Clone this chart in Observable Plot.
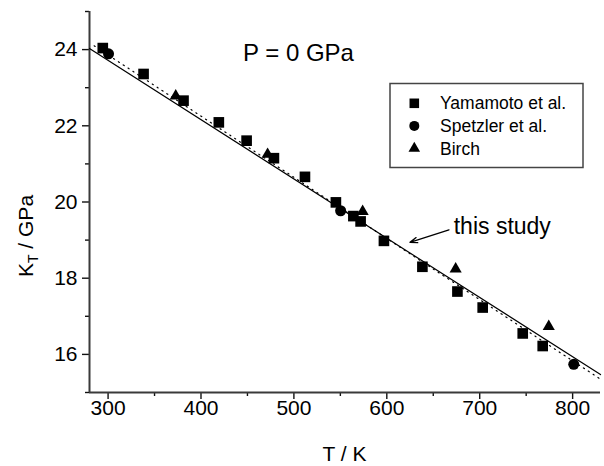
<!DOCTYPE html>
<html><head><meta charset="utf-8">
<script src="https://cdn.jsdelivr.net/npm/d3@7"></script>
<script src="https://cdn.jsdelivr.net/npm/@observablehq/plot@0.6"></script>
<style>
html,body{margin:0;padding:0;background:#fff;}
#chart{width:604px;height:466px;}
svg text{font-family:"Liberation Sans",Arial,sans-serif;}
</style></head><body><div id="chart"></div>
<script>
// ---- data ----
const yamamotoT = [294.3, 338.2, 381.2, 419.2, 449.1, 478.5, 511.9, 545.2, 564.0, 571.8, 596.9, 638.3, 676.0, 703.2, 746.3, 767.8];
const yamamotoK = [24.04, 23.36, 22.66, 22.09, 21.61, 21.15, 20.66, 19.99, 19.63, 19.49, 18.98, 18.30, 17.65, 17.23, 16.55, 16.22];
const spetzlerT = [300.5, 550.3, 801.2];
const spetzlerK = [23.89, 19.77, 15.74];
const birchT = [372.8, 471.7, 574.0, 674.1, 774.3];
const birchK = [22.78, 21.25, 19.75, 18.24, 16.73];
const studyT = [280, 830];          // "this study" solid line
const studyK = [24.03, 15.47];
const fitT = [285, 830];            // dotted line
const fitK = [24.10, 15.35];
const xMajorTicks = [300, 400, 500, 600, 700, 800];
const xMinorTicks = [350, 450, 550, 650, 750];
const yMajorTicks = [16, 18, 20, 22, 24];
const yMinorTicks = [15, 17, 19, 21, 23, 25];
const seriesNames = ["Yamamoto et al.", "Spetzler et al.", "Birch"];
const seriesSymbols = ["square", "circle", "triangle"];
const seriesR = [6.0, 5.5, 4.5];
const titleText = "P = 0 GPa";
const xLabel = "T / K";
const yLabelMain = "K", yLabelSub = "T", yLabelRest = " / GPa";
const annotationText = ["this study"];
const arrowT = [[666.9, 624.9]];
const arrowK = [[19.27, 18.94]];
const annotationT = [672];
const annotationK = [19.36];

// ---- build tables ----
const zip = (T, K) => T.map((t, i) => ({T: t, K: K[i]}));
const yam = zip(yamamotoT, yamamotoK);
const spe = zip(spetzlerT, spetzlerK);
const bir = zip(birchT, birchK);
const study = zip(studyT, studyK);
const fit = zip(fitT, fitK);
const arrows = arrowT.map((t, i) => ({x1: t[0], x2: t[1], y1: arrowK[i][0], y2: arrowK[i][1]}));
const notes = annotationText.map((s, i) => ({s, T: annotationT[i], K: annotationK[i]}));

const FONT = "Liberation Sans, Arial, sans-serif";
const plot = Plot.plot({
  width: 604, height: 466,
  marginLeft: 89, marginRight: 4, marginTop: 11, marginBottom: 74,
  x: {domain: [280, 830]},
  y: {domain: [15, 25]},
  style: {fontFamily: FONT, fontSize: "21px", color: "#000", background: "#fff", overflow: "visible"},
  marks: [
    Plot.axisX({ticks: xMajorTicks, tickSize: 7, tickFormat: () => "", label: null, stroke: "#111", strokeWidth: 1.4}),
    Plot.axisX({ticks: xMinorTicks, tickSize: 4, tickFormat: () => "", label: null, stroke: "#111", strokeWidth: 1.4}),
    Plot.axisY({ticks: yMajorTicks, tickSize: 7, tickFormat: () => "", label: null, stroke: "#111", strokeWidth: 1.4}),
    Plot.axisY({ticks: yMinorTicks, tickSize: 4, tickFormat: () => "", label: null, stroke: "#111", strokeWidth: 1.4}),
    Plot.text(xMajorTicks, {x: d => d, text: d => String(d), frameAnchor: "bottom", dy: 7.5, lineAnchor: "top", textAnchor: "middle", fontSize: 21, fill: "#000"}),
    Plot.text(yMajorTicks, {y: d => d, text: d => String(d), frameAnchor: "left", dx: -12, lineAnchor: "middle", textAnchor: "end", fontSize: 21, fill: "#000"}),
    Plot.ruleY([15], {stroke: "#3a3a3a", strokeWidth: 2}),
    Plot.ruleX([280], {stroke: "#3a3a3a", strokeWidth: 2}),
    Plot.line(fit, {x: "T", y: "K", stroke: "#000", strokeWidth: 1.2, strokeDasharray: "1.2,4.6"}),
    Plot.line(study, {x: "T", y: "K", stroke: "#000", strokeWidth: 1.2}),
    Plot.dot(yam, {x: "T", y: "K", symbol: "square", r: seriesR[0], fill: "#000", stroke: "none"}),
    Plot.dot(spe, {x: "T", y: "K", symbol: "circle", r: seriesR[1], fill: "#000", stroke: "none"}),
    Plot.dot(bir, {x: "T", y: "K", symbol: "triangle", r: seriesR[2], fill: "#000", stroke: "none"}),
    Plot.arrow(arrows, {x1: "x1", y1: "y1", x2: "x2", y2: "y2", stroke: "#000", strokeWidth: 1.3, headLength: 9, headAngle: 40}),
    Plot.text(notes, {x: "T", y: "K", text: "s", textAnchor: "start", fontSize: 23, fill: "#000"})
  ]
});
document.getElementById("chart").appendChild(plot);

const svg = d3.select(plot);
// title inside the frame
svg.append("text").attr("x", 243).attr("y", 60.7).attr("text-anchor", "start").attr("font-size", 24)
  .attr("font-family", FONT).attr("fill", "#000").text(titleText);
// x label
svg.append("text").attr("x", 344.5).attr("y", 460.7).attr("text-anchor", "middle")
  .attr("font-size", 21).attr("font-family", FONT).text(xLabel);
// y label with subscript
const yl = svg.append("text").attr("transform", "translate(33,236) rotate(-90)")
  .attr("text-anchor", "middle").attr("font-size", 21).attr("font-family", FONT);
yl.append("tspan").text(yLabelMain);
yl.append("tspan").attr("font-size", 14).attr("dy", 5).text(yLabelSub);
yl.append("tspan").attr("dy", -5).text(yLabelRest);
// legend box
const lg = svg.append("g");
lg.append("rect").attr("x", 390).attr("y", 83.5).attr("width", 193).attr("height", 84)
  .attr("fill", "#fff").attr("stroke", "#444").attr("stroke-width", 1.5);
const symMap = {square: d3.symbolSquare, circle: d3.symbolCircle, triangle: d3.symbolTriangle};
const legR = [5.4, 5.0, 4.3];
seriesNames.forEach((name, i) => {
  const cy = 103.3 + i * 22.6;
  lg.append("path").attr("transform", `translate(414.3,${cy})`)
    .attr("d", d3.symbol(symMap[seriesSymbols[i]], Math.PI * legR[i] * legR[i])())
    .attr("fill", "#000");
  lg.append("text").attr("x", 440).attr("y", cy).attr("dy", "0.35em").attr("text-anchor", "start")
    .attr("font-size", 17.5).attr("font-family", FONT).text(name);
});
</script></body></html>
